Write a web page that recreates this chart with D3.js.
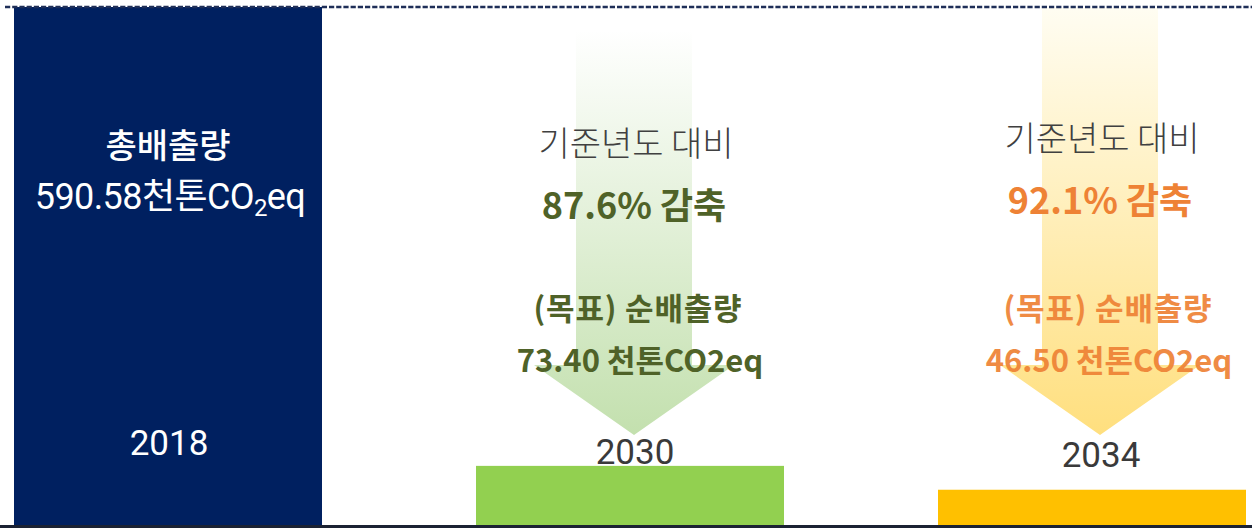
<!DOCTYPE html>
<html><head><meta charset="utf-8">
<script src="https://cdn.jsdelivr.net/npm/d3@7"></script>
<style>
html,body{margin:0;padding:0;background:#fff;}
svg{display:block;}
</style></head>
<body><svg id="chart" width="1252" height="528"></svg>
<script>
// ---- data ----
const years = ["2018", "2030", "2034"];
const values = [590.58, 73.40, 46.50];          // 천톤CO2eq
const reductions = [null, 87.6, 92.1];          // % vs base year
const baseLabel = ["총배출량", "590.58"];
const unitLabel = "천톤CO2eq";

const W = 1252, H = 528;
const svg = d3.select("#chart");
const KR = "'Noto Sans CJK KR','Noto Sans',sans-serif";
const NUM = "Roboto,'Noto Sans CJK KR',sans-serif";

const x = d3.scaleBand().domain(years).range([14, 1246]).paddingInner(1/3).paddingOuter(0);
const y = d3.scaleLinear().domain([0, d3.max(values)]).range([531, 7]);

const barColor = ["#002060", "#92d050", "#ffc000"];
const accent = [null, "#4f6228", "#ee8235"];
const arrowTop = [null, 30, 8];
const arrowDx = [0, 4, 8];
const gradStops = [null, ["#ffffff", "#c3e0ae"], ["#fffdf2", "#ffdf7e"]];

const defs = svg.append("defs");
years.forEach((yr, i) => {
  if (!gradStops[i]) return;
  const g = defs.append("linearGradient").attr("id", "g" + i)
    .attr("x1", 0).attr("y1", 0).attr("x2", 0).attr("y2", 1);
  g.append("stop").attr("offset", "0%").attr("stop-color", gradStops[i][0]);
  g.append("stop").attr("offset", "100%").attr("stop-color", gradStops[i][1]);
});

// bars
svg.append("g").selectAll("rect").data(years).join("rect")
  .attr("x", d => x(d)).attr("width", x.bandwidth())
  .attr("y", (d, i) => y(values[i]))
  .attr("height", (d, i) => y(0) - y(values[i]))
  .attr("fill", (d, i) => barColor[i]);

// arrows
years.forEach((yr, i) => {
  if (reductions[i] == null) return;
  const cx = x(yr) + x.bandwidth() / 2 + arrowDx[i];
  const top = arrowTop[i], tipY = 435, headY = 365, sw = 58, hw = 100;
  const pts = [[cx - sw, top], [cx + sw, top], [cx + sw, headY], [cx + hw, headY],
               [cx, tipY], [cx - hw, headY], [cx - sw, headY]];
  svg.append("path").attr("d", d3.line()(pts) + "Z").attr("fill", "url(#g" + i + ")");
});

// dashed top line
svg.append("line").attr("x1", 5).attr("x2", W).attr("y1", 7).attr("y2", 7)
  .attr("stroke", "#1f2f58").attr("stroke-width", 2.5).attr("stroke-dasharray", "5.2,2");

// bottom axis line
svg.append("line").attr("x1", 0).attr("x2", W).attr("y1", 526.5).attr("y2", 526.5)
  .attr("stroke", "#1b2233").attr("stroke-width", 3);

// base year labels
const c0 = x(years[0]) + x.bandwidth() / 2;
svg.append("text").attr("x", c0).attr("y", 158).attr("text-anchor", "middle")
  .attr("font-family", KR).attr("font-size", 34).attr("font-weight", 500)
  .attr("fill", "#fff").text(baseLabel[0]);
const t2 = svg.append("text").attr("x", c0 + 2).attr("y", 209).attr("text-anchor", "middle")
  .attr("font-family", NUM).attr("font-size", 36).attr("fill", "#fff")
  .attr("letter-spacing", -0.6);
t2.append("tspan").text(baseLabel[1] + "천톤CO");
t2.append("tspan").attr("font-size", 24).attr("dy", 7).text("2");
t2.append("tspan").attr("dy", -7).text("eq");

// year labels
years.forEach((yr, i) => {
  const cx = x(yr) + x.bandwidth() / 2;
  svg.append("text")
    .attr("x", i === 0 ? cx + 1 : cx + arrowDx[i] + 1)
    .attr("y", i === 0 ? 455 : 464 + (i === 2 ? 3 : 0))
    .attr("text-anchor", "middle").attr("font-family", NUM).attr("font-size", 35)
    .attr("fill", i === 0 ? "#fff" : "#3a3a3a").text(yr);
});

// reduction texts
years.forEach((yr, i) => {
  if (reductions[i] == null) return;
  const cx = x(yr) + x.bandwidth() / 2 + arrowDx[i];
  const off = i === 2 ? -5 : 0;
  svg.append("text").attr("x", cx + 2).attr("y", 156 + off).attr("text-anchor", "middle")
    .attr("font-family", KR).attr("font-size", 34).attr("font-weight", 300)
    .attr("fill", "#404040").text("기준년도 대비");
  svg.append("text").attr("x", cx).attr("y", 219 + off).attr("text-anchor", "middle")
    .attr("font-family", KR).attr("font-size", 36).attr("font-weight", 700)
    .attr("fill", accent[i]).text(d3.format(".1f")(reductions[i]) + "% 감축");
  svg.append("text").attr("x", cx + 4 + (i === 2 ? 4 : 0)).attr("y", 320).attr("text-anchor", "middle")
    .attr("font-family", KR).attr("font-size", 31).attr("font-weight", 700)
    .attr("letter-spacing", 0.8)
    .attr("fill", accent[i]).attr("opacity", i === 2 ? 0.92 : 1).text("(목표) 순배출량");
  svg.append("text").attr("x", cx + 6 + (i === 2 ? 3 : 0)).attr("y", 372).attr("text-anchor", "middle")
    .attr("font-family", KR).attr("font-size", 31).attr("font-weight", 700)
    .attr("fill", accent[i]).attr("opacity", i === 2 ? 0.92 : 1)
    .text(d3.format(".2f")(values[i]) + " " + unitLabel);
});
</script></body></html>
